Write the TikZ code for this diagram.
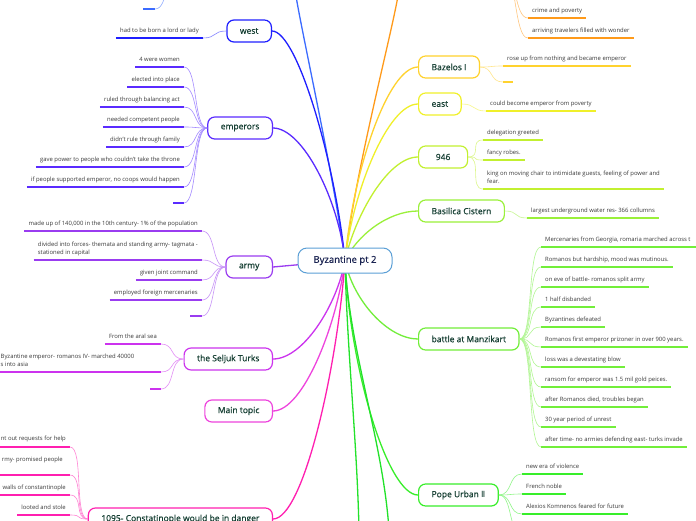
\documentclass[tikz,border=0pt]{standalone}
\usepackage{fontspec}
\setmainfont{Open Sans}
\newfontfamily\dejavu{DejaVu Sans}
\newfontfamily\nodefont{Open Sans}[FakeBold=0.7]
\usetikzlibrary{calc}
\pgfdeclarelayer{bg}
\pgfsetlayers{bg,main}
\definecolor{ctopblue}{HTML}{3B6BFF}
\definecolor{cwest}{HTML}{1F1FFF}
\definecolor{cemp}{HTML}{5A2BFF}
\definecolor{carmy}{HTML}{9A3CF0}
\definecolor{cselj}{HTML}{CC33EE}
\definecolor{cmain}{HTML}{EE44DD}
\definecolor{cdanger}{HTML}{FF1FB0}
\definecolor{corange}{HTML}{FF9A1A}
\definecolor{cbaz}{HTML}{FFD22E}
\definecolor{ceast}{HTML}{F0F02A}
\definecolor{cnine}{HTML}{C2F030}
\definecolor{cbas}{HTML}{9AF03A}
\definecolor{cbat}{HTML}{72EE3A}
\definecolor{cpope}{HTML}{38EE2A}
\definecolor{cgreentwo}{HTML}{22E22A}
\definecolor{ccenter}{HTML}{5B9FD6}
\definecolor{navy}{HTML}{1B2452}
\definecolor{tgreen}{HTML}{163F33}
\definecolor{tgray}{HTML}{3A3A3A}
\begin{document}
\begin{tikzpicture}[x=1pt,y=-1pt,
  mainbox/.style={draw, rounded corners=7pt, line width=1.2pt, fill=white,
    minimum height=22pt, inner xsep=13pt, font=\nodefont\fontsize{8.5}{10}\selectfont, text=tgreen},
  centerbox/.style={draw=ccenter, rounded corners=9pt, line width=1pt, fill=white,
    minimum height=25pt, minimum width=94pt, font=\nodefont\fontsize{9.5}{11}\selectfont, text=navy},
  leaf/.style={inner xsep=4pt, inner ysep=3.4pt, text depth=1.5pt,
    font=\fontsize{5.9}{8.2}\selectfont, text=tgray, align=left},
  bare/.style={inner sep=0pt, font=\fontsize{5.9}{8.2}\selectfont, text=tgray, align=left},
  uline/.style={line width=1.6pt},
  branch/.style={line width=1.3pt},
  twig/.style={line width=0.6pt},
]
\useasboundingbox (0,0) rectangle (696,520);
\clip (0,0) rectangle (696,520);

% ---------- main nodes ----------
\node[centerbox] (c) at (345,260.5) {Byzantine pt 2};

\node[mainbox, draw=cwest, anchor=east] (west) at (272,31) {west};
\node[mainbox, draw=cemp, anchor=east] (emp) at (273,128) {emperors};
\node[mainbox, draw=carmy, anchor=east] (army) at (273,267) {army};
\node[mainbox, draw=cselj, anchor=east] (selj) at (273,359) {the Seljuk Turks};
\node[mainbox, draw=cmain, anchor=east] (mtop) at (273,411) {Main topic};
\node[mainbox, draw=cdanger, anchor=east] (dang) at (273,519) {1095- Constatinople would be in danger};

\node[mainbox, draw=cbaz, anchor=west] (baz) at (418,67) {Bazelos I};
\node[mainbox, draw=ceast, anchor=west] (east) at (418,104) {east};
\node[mainbox, draw=cnine, anchor=west, minimum width=49pt] (nine) at (418,157) {946};
\node[mainbox, draw=cbas, anchor=west] (bas) at (418,211) {Basilica Cistern};
\node[mainbox, draw=cbat, anchor=west] (bat) at (418,339) {battle at Manzikart};
\node[mainbox, draw=cpope, anchor=west] (pope) at (418,495) {Pope Urban {\dejavu Ⅱ}};

% off-picture ends
\coordinate (topblue) at (295,-10);
\coordinate (toporange) at (399,-10);
\coordinate (botgreenA) at (359,530);
\coordinate (botgreenB) at (389,530);

% ---------- branches ----------
\begin{pgfonlayer}{bg}
\clip (0,0) rectangle (696,520);
\fill[white] (0,0) rectangle (696,520);
\draw[branch, ctopblue] (c.center) .. controls +(-12,-90) and +(6,40) .. (topblue);
\draw[branch, cwest] (c.center) .. controls +(-10,-100) and +(25,0) .. (west.east);
\draw[branch, cemp] (c.center) .. controls +(-6,-60) and +(30,0) .. (emp.east);
\draw[branch, carmy] (c.center) -- (army.east);
\draw[branch, cselj] (c.center) .. controls +(-8,45) and +(30,0) .. (selj.east);
\draw[branch, cmain] (c.center) .. controls +(-8,65) and +(30,0) .. (mtop.east);
\draw[branch, cdanger] (c.center) .. controls +(-8,110) and +(30,0) .. (dang.east);
\draw[branch, corange] (c.center) .. controls +(10,-90) and +(-6,40) .. (toporange);
\draw[branch, cbaz] (c.center) .. controls +(8,-90) and +(-30,0) .. (baz.west);
\draw[branch, ceast] (c.center) .. controls +(8,-70) and +(-30,0) .. (east.west);
\draw[branch, cnine] (c.center) .. controls +(10,-45) and +(-30,0) .. (nine.west);
\draw[branch, cbas] (c.center) .. controls +(12,-25) and +(-30,0) .. (bas.west);
\draw[branch, cbat] (c.center) .. controls +(8,40) and +(-30,0) .. (bat.west);
\draw[branch, cpope] (c.center) .. controls +(5,110) and +(-30,0) .. (pope.west);
\draw[branch, cgreentwo] (c.center) .. controls +(2,90) and +(-2,-90) .. (botgreenA);
\draw[branch, cgreentwo] (c.center) .. controls +(4,90) and +(-6,-90) .. (botgreenB);
\end{pgfonlayer}

% ---------- top-left partial child ----------
\coordinate (tlp) at (178,-30);
\coordinate (tla) at (143,9);
\coordinate (tlb) at (155,9);
\draw[uline, ctopblue] (tla) -- (tlb);
\draw[twig, ctopblue!55] (tlp) .. controls +(-14,0) and +(14,0) .. (tlb);

% ---------- west ----------
\node[leaf, anchor=south east] (w1) at (203,38) {had to be born a lord or lady};
\draw[uline, cwest] (w1.south west) -- (w1.south east);
\draw[twig, cwest!55] (west.west) .. controls +(-14,0) and +(14,0) .. (w1.south east);

% ---------- emperors ----------
\foreach \i/\y/\t in {1/67/{4 were women},2/87/{elected into place},3/107/{ruled through balancing act},
  4/127/{needed competent people},5/147/{didn't rule through family},
  6/167/{gave power to people who couldn't take the throne},
  7/187/{if people supported emperor, no coops would happen}}{
  \node[leaf, anchor=south east] (e\i) at (184,\y) {\t};
}
\coordinate (e8a) at (173,203);
\coordinate (e8b) at (184,203);
\foreach \i in {1,...,7}{
  \draw[uline, cemp] (e\i.south west) -- (e\i.south east);
  \draw[twig, cemp!55] (emp.west) .. controls +(-14,0) and +(14,0) .. (e\i.south east);
}
\draw[uline, cemp] (e8a) -- (e8b);
\draw[twig, cemp!55] (emp.west) .. controls +(-14,0) and +(14,0) .. (e8b);

% ---------- army ----------
\node[leaf, anchor=south east] (a1) at (202,231) {made up of 140,000 in the 10th century- 1\% of the population};
\node[leaf, anchor=south east] (a2) at (202,260) {divided into forces- themata and standing army- tagmata -\\stationed in capital};
\node[leaf, anchor=south east] (a3) at (202,280) {given joint command};
\node[leaf, anchor=south east] (a4) at (202,300) {employed foreign mercenaries};
\coordinate (a5a) at (190,316);
\coordinate (a5b) at (202,316);
\foreach \i in {1,...,4}{
  \draw[uline, carmy] (a\i.south west) -- (a\i.south east);
  \draw[twig, carmy!55] (army.west) .. controls +(-14,0) and +(14,0) .. (a\i.south east);
}
\draw[uline, carmy] (a5a) -- (a5b);
\draw[twig, carmy!55] (army.west) .. controls +(-14,0) and +(14,0) .. (a5b);

% ---------- Seljuk Turks ----------
\node[leaf, anchor=south east] (s1) at (161,344) {From the aral sea};
\node[bare, anchor=south west] (s2) at (0.5,367) {Byzantine emperor- romanos IV- marched 40000\\s into asia};
\coordinate (s2a) at (0,372);
\coordinate (s2b) at (161,372);
\coordinate (s3a) at (150,389);
\coordinate (s3b) at (161,389);
\draw[uline, cselj] (s1.south west) -- (s1.south east);
\draw[twig, cselj!55] (selj.west) .. controls +(-14,0) and +(14,0) .. (s1.south east);
\draw[uline, cselj] (s2a) -- (s2b);
\draw[twig, cselj!55] (selj.west) .. controls +(-14,0) and +(14,0) .. (s2b);
\draw[uline, cselj] (s3a) -- (s3b);
\draw[twig, cselj!55] (selj.west) .. controls +(-14,0) and +(14,0) .. (s3b);

% ---------- 1095 ----------
\node[bare, anchor=base east] (p1) at (66,440) {nt out requests for help};
\node[bare, anchor=base east] (p2) at (63,461) {rmy- promised people};
\node[bare, anchor=base east] (p3) at (66,489) {walls of constantinople};
\node[leaf, anchor=south east] (p4) at (70,515) {looted and stole};
\coordinate (p1a) at (0,447); \coordinate (p1b) at (70,447);
\coordinate (p2a) at (0,475); \coordinate (p2b) at (70,475);
\coordinate (p3a) at (0,495); \coordinate (p3b) at (70,495);
\draw[uline, cdanger] (p1a) -- (p1b);
\draw[uline, cdanger] (p2a) -- (p2b);
\draw[uline, cdanger] (p3a) -- (p3b);
\draw[uline, cdanger] (p4.south west) -- (p4.south east);
\draw[twig, cdanger!55] (dang.west) .. controls +(-14,0) and +(14,0) .. (p1b);
\draw[twig, cdanger!55] (dang.west) .. controls +(-14,0) and +(14,0) .. (p2b);
\draw[twig, cdanger!55] (dang.west) .. controls +(-14,0) and +(14,0) .. (p3b);
\draw[twig, cdanger!55] (dang.west) .. controls +(-14,0) and +(14,0) .. (p4.south east);

% ---------- orange (off picture) ----------
\coordinate (orp) at (503,-28);
\node[leaf, anchor=south west] (o1) at (528,18) {crime and poverty};
\node[leaf, anchor=south west] (o2) at (528,38) {arriving travelers filled with wonder};
\foreach \i in {1,2}{
  \draw[uline, corange] (o\i.south west) -- (o\i.south east);
  \draw[twig, corange!55] (orp) .. controls +(14,0) and +(-14,0) .. (o\i.south west);
}

% ---------- Bazelos I ----------
\node[leaf, anchor=south west] (b1) at (503,66) {rose up from nothing and became emperor};
\coordinate (b2a) at (503,82); \coordinate (b2b) at (513,82);
\draw[uline, cbaz] (b1.south west) -- (b1.south east);
\draw[twig, cbaz!55] (baz.east) .. controls +(14,0) and +(-14,0) .. (b1.south west);
\draw[uline, cbaz] (b2a) -- (b2b);
\draw[twig, cbaz!55] (baz.east) .. controls +(14,0) and +(-14,0) .. (b2a);

% ---------- east ----------
\node[leaf, anchor=south west] (ea1) at (486,111) {could become emperor from poverty};
\draw[uline, ceast] (ea1.south west) -- (ea1.south east);
\draw[twig, ceast!55] (east.east) .. controls +(14,0) and +(-14,0) .. (ea1.south west);

% ---------- 946 ----------
\node[leaf, anchor=south west] (n1) at (483,140) {delegation greeted};
\node[leaf, anchor=south west] (n2) at (483,160) {fancy robes.};
\node[leaf, anchor=south west] (n3) at (483,189) {king on moving chair to intimidate guests, feeling of power and\\fear.};
\foreach \i in {1,2,3}{
  \draw[uline, cnine] (n\i.south west) -- (n\i.south east);
  \draw[twig, cnine!55] (nine.east) .. controls +(14,0) and +(-14,0) .. (n\i.south west);
}

% ---------- Basilica Cistern ----------
\node[leaf, anchor=south west] (bc1) at (527,218) {largest underground water res- 366 collumns};
\draw[uline, cbas] (bc1.south west) -- (bc1.south east);
\draw[twig, cbas!55] (bas.east) .. controls +(14,0) and +(-14,0) .. (bc1.south west);

% ---------- battle at Manzikart ----------
\foreach \i/\y/\t in {1/247/{Mercenaries from Georgia, romaria marched across t},
  2/267/{Romanos but hardship, mood was mutinous.},
  3/287/{on eve of battle- romanos split army},
  4/307/{1 half disbanded},
  5/327/{Byzantines defeated},
  6/347/{Romanos first emperor prizoner in over 900 years.},
  7/367/{loss was a devestating blow},
  8/387/{ransom for emperor was 1.5 mil gold peices.},
  9/407/{after Romanos died, troubles began},
  10/427/{30 year period of unrest},
  11/447/{after time- no armies defending east- turks invade}}{
  \node[leaf, anchor=south west] (bt\i) at (541,\y) {\t};
}
\coordinate (bt1end) at (700,247);
\draw[uline, cbat] (bt1.south west) -- (bt1end);
\foreach \i in {2,...,11}{
  \draw[uline, cbat] (bt\i.south west) -- (bt\i.south east);
}
\foreach \i in {1,...,11}{
  \draw[twig, cbat!55] (bat.east) .. controls +(14,0) and +(-14,0) .. (bt\i.south west);
}

% ---------- Pope Urban II ----------
\node[leaf, anchor=south west] (u1) at (522,474) {new era of violence};
\node[leaf, anchor=south west] (u2) at (522,494) {French noble};
\node[leaf, anchor=south west] (u3) at (522,514) {Alexios Komnenos feared for future};
\coordinate (u4) at (522,534);
\foreach \i in {1,2,3}{
  \draw[uline, cpope] (u\i.south west) -- (u\i.south east);
  \draw[twig, cpope!55] (pope.east) .. controls +(14,0) and +(-14,0) .. (u\i.south west);
}
\draw[twig, cpope!55] (pope.east) .. controls +(14,0) and +(-14,0) .. (u4);
\end{tikzpicture}
\end{document}
